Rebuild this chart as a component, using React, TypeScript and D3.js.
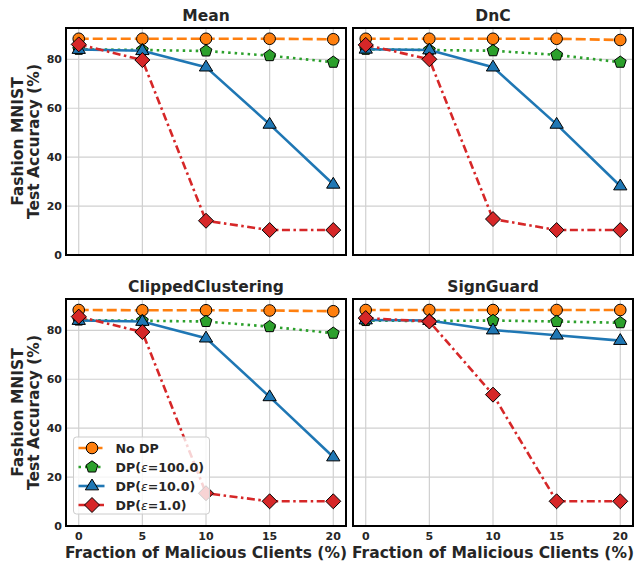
import React from "react";
import * as d3 from "d3";

const fractions = [0, 5, 10, 15, 20];
const panelTitles = ["Mean", "DnC", "ClippedClustering", "SignGuard"];
const seriesNames = ["No DP", "DP(ε=100.0)", "DP(ε=10.0)", "DP(ε=1.0)"];
const seriesEps = ["", "100.0", "10.0", "1.0"];

// values per panel: [NoDP, DP100, DP10, DP1]
const meanNoDP = [88.4, 88.4, 88.4, 88.4, 88.2];
const meanDP100 = [84.1, 83.8, 83.4, 81.5, 78.8];
const meanDP10 = [84.0, 83.5, 76.8, 53.4, 28.9];
const meanDP1 = [86.1, 79.7, 14.0, 10.2, 10.2];

const dncNoDP = [88.4, 88.4, 88.4, 88.4, 87.9];
const dncDP100 = [84.1, 83.8, 83.5, 81.8, 78.8];
const dncDP10 = [84.1, 83.8, 76.8, 53.4, 28.2];
const dncDP1 = [85.9, 80.0, 14.7, 10.2, 10.2];

const ccNoDP = [88.3, 88.2, 88.2, 88.1, 87.8];
const ccDP100 = [84.2, 83.9, 83.6, 81.5, 78.8];
const ccDP10 = [84.0, 83.6, 76.8, 52.8, 28.2];
const ccDP1 = [85.6, 79.3, 13.4, 10.1, 10.1];

const sgNoDP = [88.3, 88.3, 88.3, 88.3, 88.3];
const sgDP100 = [84.0, 83.8, 84.0, 83.6, 83.1];
const sgDP10 = [84.2, 84.0, 80.1, 78.0, 75.8];
const sgDP1 = [85.0, 83.6, 53.7, 10.1, 10.1];

const panelData = [
  [meanNoDP, meanDP100, meanDP10, meanDP1],
  [dncNoDP, dncDP100, dncDP10, dncDP1],
  [ccNoDP, ccDP100, ccDP10, ccDP1],
  [sgNoDP, sgDP100, sgDP10, sgDP1],
];

const yTicks = [0, 20, 40, 60, 80];
const xTicks = [0, 5, 10, 15, 20];

const colors = ["#ff7f0e", "#2ca02c", "#1f77b4", "#d62728"];
const dashes = ["10,4", "2.5,4", "", "8,3.5,2.5,3.5"];
const markerTypes = ["circle", "pentagon", "triangle", "diamond"];

const FONT = "'DejaVu Sans', sans-serif";
const TEXT = "#262626";
const LABEL_SIZE = 15.5;

function markerPath(type: string, x: number, y: number): React.ReactNode {
  const common = { stroke: "#000", strokeWidth: 1 };
  if (type === "circle") return <circle cx={x} cy={y} r={5.8} {...common} />;
  if (type === "pentagon") {
    const r = 6.2;
    const pts = d3.range(5).map((i) => {
      const a = -Math.PI / 2 + (i * 2 * Math.PI) / 5;
      return [x + r * Math.cos(a), y + r * Math.sin(a)];
    });
    return <polygon points={pts.map((p) => p.join(",")).join(" ")} {...common} />;
  }
  if (type === "triangle") {
    const r = 7;
    const pts = [
      [x, y - r],
      [x + r * 0.95, y + r * 0.55],
      [x - r * 0.95, y + r * 0.55],
    ];
    return <polygon points={pts.map((p) => p.join(",")).join(" ")} {...common} />;
  }
  const r = 7.5;
  const pts = [
    [x, y - r],
    [x + r, y],
    [x, y + r],
    [x - r, y],
  ];
  return <polygon points={pts.map((p) => p.join(",")).join(" ")} {...common} />;
}

function Panel({ idx, left, top }: { idx: number; left: number; top: number }) {
  const w = 280;
  const h = 227;
  const x = d3.scaleLinear().domain([-1, 21]).range([left, left + w]);
  const y = d3.scaleLinear().domain([0, 92.8]).range([top + h, top]);
  const showY = idx % 2 === 0;
  const showX = idx >= 2;
  const data = panelData[idx];
  const line = d3
    .line<number>()
    .x((_, i) => x(fractions[i]))
    .y((d) => y(d));
  return (
    <g>
      <rect x={left} y={top} width={w} height={h} fill="#fff" />
      {yTicks.map((t) => (
        <line key={"gy" + t} x1={left} x2={left + w} y1={y(t)} y2={y(t)} stroke="#d0d0d0" strokeWidth={1.2} />
      ))}
      {xTicks.map((t) => (
        <line key={"gx" + t} x1={x(t)} x2={x(t)} y1={top} y2={top + h} stroke="#d0d0d0" strokeWidth={1.2} />
      ))}
      {data.map((vals, s) => (
        <g key={"s" + s}>
          <path
            d={line(vals) || ""}
            fill="none"
            stroke={colors[s]}
            strokeWidth={2.6}
            strokeDasharray={dashes[s] || undefined}
          />
          {vals.map((v, i) => (
            <g key={i} fill={colors[s]}>
              {markerPath(markerTypes[s], x(fractions[i]), y(v))}
            </g>
          ))}
        </g>
      ))}
      <rect x={left} y={top} width={w} height={h} fill="none" stroke="#000" strokeWidth={2} />
      <text
        x={left + w / 2}
        y={top - 7.5}
        textAnchor="middle"
        fontFamily={FONT}
        fontWeight="bold"
        fontSize={LABEL_SIZE}
        fill={TEXT}
      >
        {panelTitles[idx]}
      </text>
      {showY &&
        yTicks.map((t) => (
          <text
            key={"yl" + t}
            x={left - 4}
            y={y(t)}
            dy="0.36em"
            textAnchor="end"
            fontFamily={FONT}
            fontWeight="bold"
            fontSize={11}
            fill={TEXT}
          >
            {t}
          </text>
        ))}
      {showX &&
        xTicks.map((t) => (
          <text
            key={"xl" + t}
            x={x(t)}
            y={top + h + 13.5}
            textAnchor="middle"
            fontFamily={FONT}
            fontWeight="bold"
            fontSize={11}
            fill={TEXT}
          >
            {t}
          </text>
        ))}
      {showY && (
        <text
          transform={`translate(${left - 40},${top + h / 2}) rotate(-90)`}
          textAnchor="middle"
          fontFamily={FONT}
          fontWeight="bold"
          fontSize={LABEL_SIZE}
          fill={TEXT}
        >
          <tspan x={0} dy={-3.4}>Fashion MNIST</tspan>
          <tspan x={0} dy={16.5}>Test Accuracy (%)</tspan>
        </text>
      )}
      {showX && (
        <text
          x={left + w / 2}
          y={top + h + 31.5}
          textAnchor="middle"
          fontFamily={FONT}
          fontWeight="bold"
          fontSize={LABEL_SIZE}
          fill={TEXT}
        >
          Fraction of Malicious Clients (%)
        </text>
      )}
    </g>
  );
}

function Legend({ left, top }: { left: number; top: number }) {
  const rowH = 19;
  return (
    <g>
      <rect
        x={left}
        y={top}
        width={136}
        height={77}
        rx={3}
        fill="#fff"
        fillOpacity={0.8}
        stroke="#cccccc"
        strokeWidth={1}
      />
      {seriesNames.map((name, s) => {
        const cy = top + 11 + s * rowH;
        return (
          <g key={name}>
            <line
              x1={left + 5}
              x2={left + 31}
              y1={cy}
              y2={cy}
              stroke={colors[s]}
              strokeWidth={2.6}
              strokeDasharray={dashes[s] || undefined}
            />
            <g fill={colors[s]}>{markerPath(markerTypes[s], left + 18.5, cy)}</g>
            <text
              x={left + 42}
              y={cy}
              dy="0.36em"
              fontFamily={FONT}
              fontWeight="bold"
              fontSize={12.6}
              fill={TEXT}
            >
              {s === 0 ? (
                name
              ) : (
                <>
                  DP(
                  <tspan fontStyle="italic" fontWeight="normal">ε</tspan>
                  ={seriesEps[s]})
                </>
              )}
            </text>
          </g>
        );
      })}
    </g>
  );
}

export default function App() {
  return (
    <svg width={634} height={561} style={{ position: "absolute", left: 0, top: 0 }}>
      <rect width={634} height={561} fill="#fff" />
      <Panel idx={0} left={66} top={28} />
      <Panel idx={1} left={353} top={28} />
      <Panel idx={2} left={66} top={299} />
      <Panel idx={3} left={353} top={299} />
      <Legend left={73.5} top={437} />
    </svg>
  );
}
